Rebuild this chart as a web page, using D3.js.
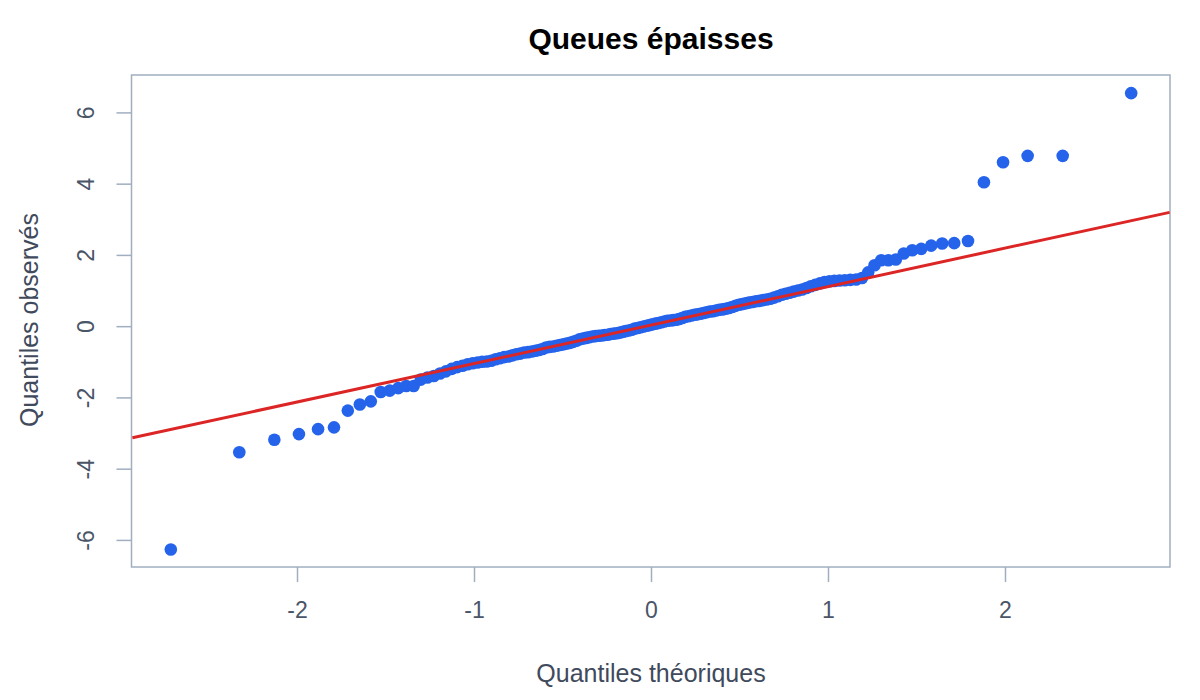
<!DOCTYPE html>
<html>
<head>
<meta charset="utf-8">
<script src="https://cdnjs.cloudflare.com/ajax/libs/d3/7.8.5/d3.min.js"></script>
<style>
  body { margin: 0; background: #fff; }
  svg { font-family: "Liberation Sans", Arial, sans-serif; }
  .tick text { fill: #4a5568; font-size: 23px; }
  .tick line { stroke: #a0aec0; stroke-width: 1.5; }
  path.domain { stroke: none; }
  text.label { fill: #3f4a5c; font-size: 25px; }
</style>
</head>
<body>
<svg id="chart" width="1200" height="700"></svg>
<script>
// theoretical normal quantiles, lower half (upper half is symmetric)
var theoLow = [-2.713, -2.326, -2.128, -1.989, -1.881, -1.791, -1.713, -1.645, -1.583, -1.527,
  -1.476, -1.428, -1.383, -1.341, -1.301, -1.263, -1.227, -1.192, -1.159, -1.126,
  -1.095, -1.065, -1.036, -1.008, -0.980, -0.954, -0.928, -0.903, -0.878, -0.854,
  -0.830, -0.806, -0.783, -0.761, -0.739, -0.717, -0.695, -0.674, -0.653, -0.633,
  -0.613, -0.593, -0.573, -0.553, -0.534, -0.515, -0.496, -0.477, -0.458, -0.440,
  -0.422, -0.404, -0.385, -0.367, -0.350, -0.332, -0.314, -0.297, -0.279, -0.262,
  -0.245, -0.228, -0.210, -0.193, -0.176, -0.159, -0.143, -0.126, -0.109, -0.092,
  -0.075, -0.059, -0.042, -0.025, -0.008];
var theoretical = theoLow.concat(theoLow.slice().reverse().map(v => -v));

// sorted sample (observed quantiles)
var observed = [-6.27, -3.54, -3.19, -3.03, -2.89, -2.84, -2.37, -2.20, -2.11, -1.85,
  -1.81, -1.74, -1.68, -1.68, -1.50, -1.44, -1.40, -1.33, -1.27, -1.20,
  -1.15, -1.11, -1.07, -1.04, -1.02, -1.00, -0.99, -0.97, -0.93, -0.90,
  -0.87, -0.85, -0.82, -0.79, -0.77, -0.74, -0.73, -0.71, -0.69, -0.67,
  -0.64, -0.60, -0.58, -0.57, -0.55, -0.53, -0.51, -0.49, -0.47, -0.44,
  -0.41, -0.37, -0.35, -0.33, -0.31, -0.29, -0.28, -0.27, -0.26, -0.25,
  -0.24, -0.22, -0.21, -0.20, -0.18, -0.16, -0.14, -0.12, -0.10, -0.07,
  -0.05, -0.03, -0.01, 0.01, 0.03, 0.05, 0.07, 0.09, 0.11, 0.13,
  0.15, 0.16, 0.17, 0.18, 0.20, 0.23, 0.26, 0.28, 0.30, 0.32,
  0.33, 0.35, 0.37, 0.39, 0.41, 0.42, 0.44, 0.46, 0.47, 0.49,
  0.51, 0.54, 0.57, 0.60, 0.62, 0.64, 0.66, 0.68, 0.70, 0.71,
  0.73, 0.75, 0.77, 0.80, 0.84, 0.88, 0.91, 0.94, 0.97, 1.00,
  1.03, 1.07, 1.12, 1.16, 1.20, 1.24, 1.26, 1.27, 1.28, 1.29,
  1.30, 1.31, 1.35, 1.51, 1.71, 1.85, 1.85, 1.87, 2.04, 2.13,
  2.17, 2.26, 2.32, 2.33, 2.39, 4.04, 4.60, 4.78, 4.78, 6.54];

// reference line (through the quartiles)
var lineIntercept = 0.03;
var lineSlope = 1.08;

var xTicks = [-2, -1, 0, 1, 2];
var yTicks = [-6, -4, -2, 0, 2, 4, 6];

var svg = d3.select("#chart");
var boxL = 131.5, boxR = 1170, boxT = 75, boxB = 567;

var xScale = d3.scaleLinear().domain([-2.93, 2.93]).range([132.4, 1169.6]);
var yScale = d3.scaleLinear().domain([-6.76, 7.05]).range([567, 75]);

svg.append("clipPath").attr("id", "clip")
  .append("rect").attr("x", boxL).attr("y", boxT)
  .attr("width", boxR - boxL).attr("height", boxB - boxT);

var xAxis = d3.axisBottom(xScale).tickValues(xTicks).tickSize(15).tickPadding(20)
  .tickFormat(d => String(d));
svg.append("g").attr("transform", `translate(0,${boxB})`).call(xAxis);

var yAxis = d3.axisLeft(yScale).tickValues(yTicks).tickSize(15)
  .tickFormat(d => String(d));
var yg = svg.append("g").attr("transform", `translate(${boxL},0)`).call(yAxis);
// rotated y tick labels, centred on their tick
yg.selectAll(".tick text")
  .attr("x", 0).attr("y", 0).attr("dy", null)
  .attr("text-anchor", "middle")
  .attr("dominant-baseline", "middle")
  .attr("transform", "translate(-44,0) rotate(-90)");

// box
svg.append("rect")
  .attr("x", boxL).attr("y", boxT)
  .attr("width", boxR - boxL).attr("height", boxB - boxT)
  .attr("fill", "none").attr("stroke", "#a0aec0").attr("stroke-width", 1.5);

// points
svg.append("g").attr("clip-path", "url(#clip)")
  .selectAll("circle")
  .data(observed.map((v, i) => ({ x: theoretical[i], y: v })))
  .enter().append("circle")
    .attr("cx", d => xScale(d.x))
    .attr("cy", d => yScale(d.y))
    .attr("r", 6.3)
    .attr("fill", "#2563eb");

// qq line
var xd = xScale.domain();
svg.append("line")
  .attr("clip-path", "url(#clip)")
  .attr("x1", xScale(xd[0])).attr("y1", yScale(lineIntercept + lineSlope * xd[0]))
  .attr("x2", xScale(xd[1])).attr("y2", yScale(lineIntercept + lineSlope * xd[1]))
  .attr("stroke", "#dc2626").attr("stroke-width", 3);

// title and labels
svg.append("text")
  .attr("x", 651).attr("y", 49)
  .attr("text-anchor", "middle")
  .style("font-size", "30px").style("font-weight", "bold").style("fill", "#000")
  .text("Queues épaisses");

svg.append("text").attr("class", "label")
  .attr("x", 651).attr("y", 682)
  .attr("text-anchor", "middle")
  .text("Quantiles théoriques");

svg.append("text").attr("class", "label")
  .attr("transform", "translate(38,320) rotate(-90)")
  .attr("text-anchor", "middle")
  .text("Quantiles observés");
</script>
</body>
</html>
